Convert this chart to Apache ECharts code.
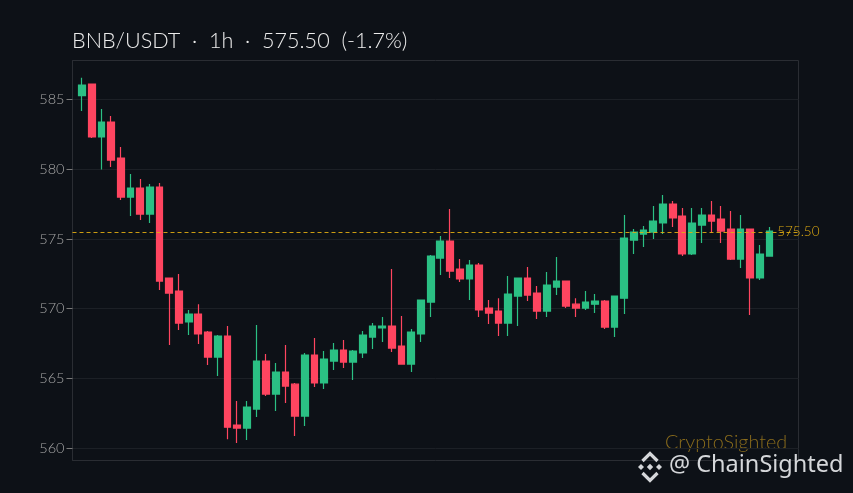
<!DOCTYPE html>
<html>
<head>
<meta charset="utf-8">
<style>html,body{margin:0;padding:0;background:#0d1117}#c{width:853px;height:493px}</style>
<script src="https://cdn.jsdelivr.net/npm/echarts@6/dist/echarts.min.js"></script>
</head>
<body>
<div id="c"></div>
<script>
const titleText = 'BNB/USDT  ·  1h  ·  575.50  (-1.7%)';
const lastPrice = 575.50;
const lastPriceLabel = '575.50';
const yTicks = [560, 565, 570, 575, 580, 585];
const opens = [585.26,586.09,582.30,583.37,580.79,578.00,578.64,576.78,578.72,572.20,571.27,569.05,569.62,568.33,566.54,568.04,561.67,561.45,562.81,566.25,563.89,565.46,564.60,562.31,566.68,564.68,566.25,567.04,566.18,566.83,567.97,568.62,568.76,567.33,566.04,568.19,570.48,573.63,574.85,572.84,572.13,573.13,570.05,569.83,568.97,570.91,572.20,571.12,569.83,571.55,571.98,570.33,570.05,570.33,570.55,568.69,570.76,574.92,575.35,575.49,576.14,577.50,576.64,573.92,575.99,576.71,576.42,575.71,573.56,575.71,572.20,573.77];
const closes = [586.02,582.30,583.37,580.65,578.00,578.64,576.78,578.72,571.98,571.12,568.97,569.62,568.19,566.54,568.04,561.52,561.45,562.96,566.25,563.89,565.46,564.46,562.31,566.68,564.68,566.40,567.04,566.18,566.97,568.11,568.76,568.76,567.18,566.04,568.33,570.62,573.77,574.85,572.70,572.13,573.13,569.91,569.69,568.97,571.05,572.20,570.98,569.83,571.70,571.98,570.19,570.05,570.48,570.55,568.69,570.91,575.06,575.49,575.64,576.28,577.50,576.50,573.92,576.14,576.71,576.28,575.56,573.56,575.71,572.20,573.92,575.56];
const lows = [584.16,582.23,579.98,580.15,577.78,576.64,576.35,576.14,571.34,567.40,568.47,568.11,567.47,565.97,565.18,560.66,560.38,560.59,562.24,563.75,562.67,563.24,560.88,561.60,564.39,564.25,565.61,565.75,564.89,566.47,567.11,567.61,566.90,566.04,565.46,567.61,569.40,572.41,572.20,571.91,570.62,569.40,568.90,568.04,568.04,568.76,570.55,569.26,569.40,570.98,570.05,569.40,569.91,569.69,568.54,567.97,569.62,573.92,574.42,574.99,575.35,575.85,573.77,573.84,574.70,575.42,574.70,573.49,572.91,569.55,572.05,573.77];
const highs = [586.55,586.09,584.30,583.80,581.58,579.65,579.29,578.93,579.00,572.20,572.48,569.91,570.33,568.40,568.11,568.76,563.39,563.39,568.83,566.75,566.11,567.40,564.68,566.83,567.90,566.97,567.54,567.76,567.04,568.40,568.97,569.40,572.84,569.48,568.54,570.62,573.84,575.21,577.14,573.56,573.49,573.27,570.62,570.76,572.34,572.20,572.99,571.62,572.63,573.70,571.98,570.76,571.27,571.05,570.62,570.91,576.71,575.71,575.92,577.35,578.14,577.71,577.21,577.21,577.21,577.71,577.35,577.00,576.71,575.71,574.56,575.85];

const candles = opens.map((o, i) => [i, o, closes[i], lows[i], highs[i]]);
const UP = '#2BC084', DOWN = '#FF4560', GOLD = '#E0AC12';
const logoGrey = '#d5d7da';
function diamond(cx, cy, r) {
  return {type:'polygon', shape:{points:[[cx,cy-r],[cx+r,cy],[cx,cy+r],[cx-r,cy]]}, style:{fill:logoGrey}, silent:true};
}
function chevron(cx, cy, up) {
  const s = up ? -1 : 1;
  return {type:'polyline', shape:{points:[[cx-7.5,cy+s*(-1)],[cx,cy+s*6.5],[cx+7.5,cy+s*(-1)]]},
    style:{stroke:logoGrey, lineWidth:3.2, fill:null}, silent:true};
}
const chart = echarts.init(document.getElementById('c'), null, {renderer:'canvas'});
chart.setOption({
  animation:false,
  backgroundColor:'#0d1117',
  textStyle:{fontFamily:'Lato'},
  grid:{left:72.5, top:60.5, width:726, height:400, show:true, borderColor:'#2a2d33', borderWidth:1, backgroundColor:'transparent'},
  title:{text:titleText, left:67, top:25.5, textStyle:{color:'#ececec', fontSize:21.6, fontWeight:300, fontFamily:'Lato'}},
  xAxis:{type:'value', min:-1, max:74, show:false, splitLine:{show:false}},
  yAxis:{type:'value', min:559.13, max:587.78, scale:true,
    axisLine:{show:true, onZero:false, lineStyle:{color:'#2a2d33'}},
    axisTick:{show:true, length:6, customValues:yTicks, lineStyle:{color:'#7a7a7a'}},
    axisLabel:{color:'#a6a6a6', fontSize:14.5, margin:8, customValues:yTicks, formatter:v=>String(v), fontFamily:'Lato', fontWeight:300},
    splitLine:{show:true, lineStyle:{color:'#1c2026', width:1}}},
  series:[{
    type:'candlestick',
    data:candles,
    encode:{x:0, y:[1,2,3,4]},
    barWidth:7.2,
    itemStyle:{color:UP, color0:DOWN, borderColor:UP, borderColor0:DOWN, borderWidth:1.2},
    markLine:{silent:true, symbol:'none', label:{show:false},
      lineStyle:{color:GOLD, type:[4,3], width:1, opacity:0.9},
      data:[{yAxis:lastPrice}]},
    markPoint:{silent:true, symbol:'circle', symbolSize:0,
      data:[{coord:[71.8, lastPrice]}],
      label:{show:true, position:'right', formatter:lastPriceLabel, color:GOLD, fontSize:13.5, fontWeight:300, fontFamily:'Lato', distance:0, offset:[0,0]}}
  }],
  graphic:[
    {type:'text', left:665, top:433, silent:true, style:{text:'CryptoSighted', fill:'#8a6c1c', font:'300 19.8px Lato'}},
    {type:'text', left:669, top:453, silent:true, style:{text:'@ ChainSighted', fill:'#d5d7da', font:'23.5px "Noto Sans"'}},
    {type:'group', silent:true, children:[
      diamond(650,467,3.2), diamond(641,467,3), diamond(659,467,3),
      chevron(650,460,true), chevron(650,474,false)
    ]}
  ]
});
</script>
</body>
</html>
